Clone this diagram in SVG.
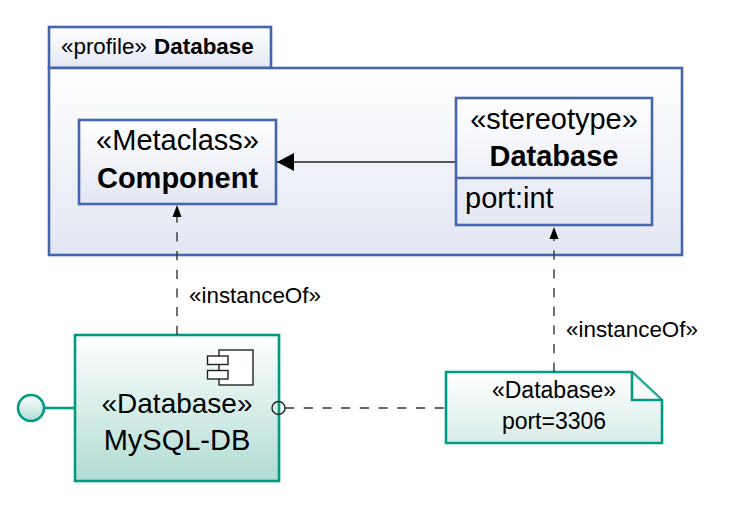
<svg xmlns="http://www.w3.org/2000/svg" width="738" height="511" viewBox="0 0 738 511">
<style>
text{font-family:"Liberation Sans",Arial,sans-serif;fill:#000;text-anchor:middle}
.blue{stroke:#4565ae;stroke-width:2.6}
.teal{stroke:#009b83;stroke-width:2.6}
.dash{fill:none;stroke:#333;stroke-width:1.4;stroke-dasharray:9.200 9.500}
.solid{fill:none;stroke:#222;stroke-width:1.4}
</style>
<defs>
<linearGradient id="gb" x1="0" y1="0" x2="0" y2="1"><stop offset="0" stop-color="#fff"/><stop offset="1" stop-color="#e3e7f3"/></linearGradient>
<linearGradient id="gt" x1="0" y1="0" x2="0" y2="1"><stop offset="0" stop-color="#fff"/><stop offset="1" stop-color="#b0dcd3"/></linearGradient>
<linearGradient id="gn" x1="0" y1="0" x2="0" y2="1"><stop offset="0" stop-color="#fff"/><stop offset="1" stop-color="#d8ece8"/></linearGradient>
<marker id="big" markerUnits="userSpaceOnUse" markerWidth="17" markerHeight="20" refX="17" refY="10" orient="auto"><path d="M0 1L17 10L0 19Z" fill="#000"/></marker>
<marker id="small" markerUnits="userSpaceOnUse" markerWidth="12" markerHeight="12" refX="12" refY="6" orient="auto"><path d="M0 1.500L12 6L0 10.500Z" fill="#000"/></marker>
</defs>
<g id="profile">
<rect x="49" y="27" width="222" height="41" fill="url(#gb)" class="blue"/>
<rect x="49" y="68" width="633" height="187" fill="url(#gb)" class="blue"/>
<text x="61" y="53.500" font-size="22.400" style="text-anchor:start">«profile»<tspan dx="1" font-weight="bold"> Database</tspan></text>
</g>
<g id="metaclass">
<rect x="79" y="120" width="197" height="84" fill="url(#gb)" class="blue"/>
<text x="177.500" y="150" font-size="29">«Metaclass»</text>
<text x="177.500" y="188" font-size="29" font-weight="bold">Component</text>
</g>
<g id="stereotype">
<rect x="456" y="98" width="196" height="127" fill="url(#gb)" class="blue"/>
<line x1="456" y1="178" x2="652" y2="178" class="blue"/>
<text x="554" y="129" font-size="29">«stereotype»</text>
<text x="554" y="166" font-size="29" font-weight="bold">Database</text>
<text x="465" y="208" font-size="29" style="text-anchor:start">port:int</text>
</g>
<g id="component">
<rect x="75" y="335" width="204" height="146" fill="url(#gt)" class="teal"/>
<rect x="219" y="350" width="34" height="35" fill="#fff" stroke="#222" stroke-width="1.4"/>
<rect x="207.500" y="356" width="20.500" height="8.500" fill="#fff" stroke="#222" stroke-width="1.4"/>
<rect x="207.500" y="370.500" width="20.500" height="8.500" fill="#fff" stroke="#222" stroke-width="1.4"/>
<text x="177" y="413" font-size="28">«Database»</text>
<text x="177" y="450" font-size="29">MySQL-DB</text>
</g>
<g id="lollipop">
<circle cx="31" cy="408" r="13" fill="url(#gt)" class="teal"/>
<line x1="44" y1="408" x2="75" y2="408" class="teal"/>
</g>
<g id="note">
<path d="M446 372H632L662 400V443H446Z" fill="url(#gn)" class="teal"/>
<path d="M632 372V400H662" fill="#fff" fill-opacity=".4" class="teal"/>
<text x="554" y="398" font-size="23">«Database»</text>
<text x="554" y="429" font-size="23">port=3306</text>
</g>
<g id="connectors">
<line x1="455" y1="162" x2="277" y2="162" class="solid" marker-end="url(#big)"/>
<line x1="177" y1="335" x2="177" y2="205" class="dash" marker-end="url(#small)"/>
<line x1="554" y1="372" x2="554" y2="227" class="dash" marker-end="url(#small)"/>
<circle cx="278.500" cy="408" r="6.500" fill="none" stroke="#222" stroke-width="1.4"/>
<line x1="285" y1="408" x2="446" y2="408" class="dash"/>
<text x="255" y="303" font-size="22.400">«instanceOf»</text>
<text x="632" y="337" font-size="22.400">«instanceOf»</text>
</g>
</svg>
